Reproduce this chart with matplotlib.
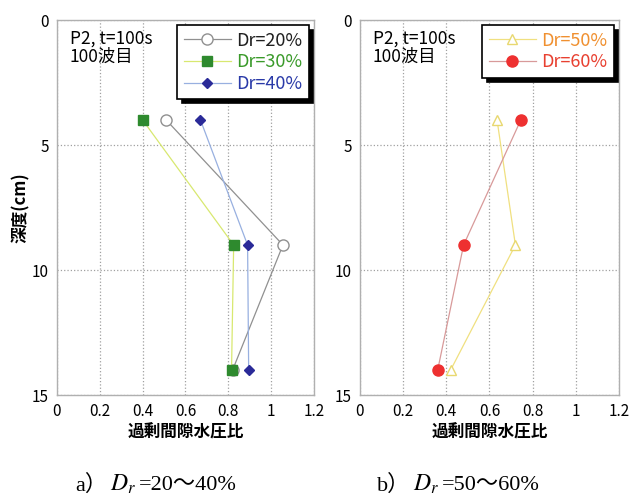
import matplotlib.pyplot as plt
from matplotlib.offsetbox import TextArea, HPacker, AnchoredOffsetbox

plt.rcParams['font.family'] = ['Noto Sans CJK JP', 'DejaVu Sans']
plt.rcParams['mathtext.fontset'] = 'stix'

# depth (cm) of the three gauges
depth = [4, 9, 14]

# excess pore water pressure ratio, panel a
dr20 = [0.51, 1.055, 0.82]
dr30 = [0.40, 0.825, 0.815]
dr40 = [0.67, 0.89, 0.895]

# panel b
dr50 = [0.635, 0.72, 0.42]
dr60 = [0.745, 0.48, 0.36]

xticks = [0, 0.2, 0.4, 0.6, 0.8, 1.0, 1.2]
xticklabels = ['0', '0.2', '0.4', '0.6', '0.8', '1', '1.2']
yticks = [0, 5, 10, 15]

fig = plt.figure(figsize=(6.31, 4.99), dpi=100)
ax1 = fig.add_axes([0.0903, 0.2084, 0.4073, 0.7515])
ax2 = fig.add_axes([0.5705, 0.2084, 0.4105, 0.7515])

def style_axes(ax):
    ax.set_xlim(0, 1.2)
    ax.set_ylim(15, 0)
    ax.set_xticks(xticks)
    ax.set_xticklabels(xticklabels)
    ax.set_yticks(yticks)
    ax.tick_params(length=0, labelsize=11, pad=6)
    ax.grid(True, linestyle=':', color='#a0a0a0', linewidth=0.9)
    for s in ax.spines.values():
        s.set_color('#b0b0b0')
        s.set_linewidth(1.0)
    ax.set_xlabel('過剰間隙水圧比', fontsize=12, fontweight='bold', labelpad=2)
    ax.text(0.05, 0.975, 'P2, t=100s\n100波目', transform=ax.transAxes,
            fontsize=12.5, va='top', ha='left', linespacing=1.0)

style_axes(ax1)
style_axes(ax2)
ax1.set_ylabel('深度(cm)', fontsize=12, fontweight='bold', labelpad=1)

ax1.plot(dr20, depth, color='#909090', lw=0.9, marker='o', ms=8,
         mfc='white', mec='#909090', label='Dr=20%')
ax1.plot(dr30, depth, color='#d8e870', lw=0.9, marker='s', ms=7,
         mfc='#2e8a2e', mec='#2e8a2e', label='Dr=30%')
ax1.plot(dr40, depth, color='#98b0e0', lw=0.9, marker='D', ms=5.5,
         mfc='#2a2a98', mec='#2a2a98', label='Dr=40%')

ax2.plot(dr50, depth, color='#f0e080', lw=0.9, marker='^', ms=7,
         mfc='white', mec='#e8d870', label='Dr=50%')
ax2.plot(dr60, depth, color='#d89a9a', lw=0.9, marker='o', ms=8,
         mfc='#ee3030', mec='#ee3030', label='Dr=60%')

leg_colors = [['#202020', '#3a9a2a', '#2a3aa8'], ['#f09030', '#e84030']]
for ax, cols in zip([ax1, ax2], leg_colors):
    leg = ax.legend(loc='upper right', fontsize=13, fancybox=False,
                    framealpha=1, edgecolor='black', borderpad=0.35,
                    labelspacing=0.2, handlelength=2.6, handletextpad=0.3,
                    borderaxespad=0.3,
                    shadow={'color': 'black', 'alpha': 1, 'ox': 3, 'oy': -3})
    leg.get_frame().set_linewidth(1.2)
    for t, c in zip(leg.get_texts(), cols):
        t.set_color(c)

# captions: mixed fonts packed side by side
captions = [('a）', '=20～40%'), ('b）', '=50～60%')]
cap_x = [0.247, 0.727]
for (pre, post), x in zip(captions, cap_x):
    parts = [
        TextArea(pre, textprops=dict(fontsize=16,
                                     family=['Liberation Serif', 'Noto Sans CJK JP'])),
        TextArea('$D_r$', textprops=dict(fontsize=17)),
        TextArea(post, textprops=dict(fontsize=16,
                                      family=['Liberation Serif', 'Noto Sans CJK JP'])),
    ]
    box = HPacker(children=parts, align='baseline', pad=0, sep=2)
    anchored = AnchoredOffsetbox(loc='center', child=box, frameon=False,
                                 bbox_to_anchor=(x, 0.03),
                                 bbox_transform=fig.transFigure, borderpad=0)
    fig.add_artist(anchored)

plt.savefig('out.png', dpi=100)
